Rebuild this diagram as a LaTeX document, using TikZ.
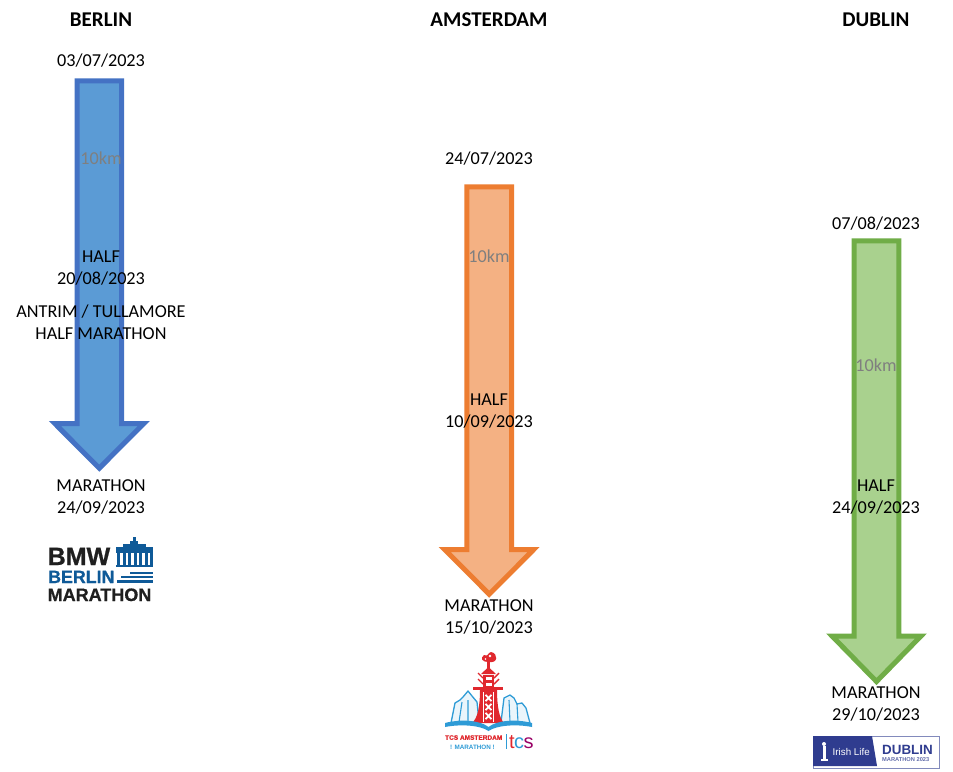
\documentclass[tikz,border=0pt]{standalone}
\usepackage{fontspec}
\setmainfont{Carlito}
\newfontfamily\logosans{Liberation Sans}
\newfontfamily\logoheavy[BoldFeatures={FakeBold=0.8}]{Liberation Sans}
\definecolor{blueline}{HTML}{4472C4}
\definecolor{bluefill}{HTML}{5B9BD5}
\definecolor{orangeline}{HTML}{ED7D31}
\definecolor{orangefill}{HTML}{F4B183}
\definecolor{greenline}{HTML}{70AD47}
\definecolor{greenfill}{HTML}{A9D18E}
\definecolor{labelgrey}{HTML}{7F7F7F}
\definecolor{berlinblue}{HTML}{0F5A98}
\definecolor{amsred}{HTML}{E0282E}
\definecolor{amsblue}{HTML}{2E9BD6}
\definecolor{dublinblue}{HTML}{2F3C8F}
\tikzset{
  x=1pt,y=-1pt,
  txt/.style={font=\fontsize{18.2}{22}\selectfont,align=center,text=black,inner sep=0pt},
  head/.style={font=\fontsize{21}{22}\selectfont\bfseries,text=black,inner sep=0pt},
  dist/.style={font=\fontsize{18.2}{22}\selectfont,text=labelgrey,inner sep=0pt},
  route/.style={line width=5pt,miter limit=10,line join=miter},
  lg/.style={inner sep=0pt,anchor=base west},
}
% Block arrow: outline, fill, centre x, top, shoulder, tip
\newcommand{\blockarrow}[6]{%
  \draw[route,draw=#1,fill=#2] (#3-22.3,#4) -- (#3+22.3,#4) -- (#3+22.3,#5) -- (#3+44.5,#5)
    -- (#3,#6) -- (#3-44.5,#5) -- (#3-22.3,#5) -- cycle;}
\begin{document}
\begin{tikzpicture}
\useasboundingbox (0,0) rectangle (953,771);
\fill[white] (0,0) rectangle (953,771);

% Training blocks
\blockarrow{blueline}{bluefill}{99.3}{80.8}{423.5}{468.2}
\blockarrow{orangeline}{orangefill}{489.2}{186.8}{549.5}{594.2}
\blockarrow{greenline}{greenfill}{876.5}{240.8}{636}{681.5}

% Berlin column
\node[head] (bh) at (101,19.5) {BERLIN};
\node[txt] (b1) at (101,61) {03/07/2023};
\node[dist] (b2) at (101,158.5) {10km};
\node[txt] (b3) at (101,268) {HALF\\20/08/2023};
\node[txt] (b4) at (101,322.5) {ANTRIM / TULLAMORE\\HALF MARATHON};
\node[txt] (b5) at (101,497) {MARATHON\\24/09/2023};

% Amsterdam column
\node[head] (ah) at (489,19.5) {AMSTERDAM};
\node[txt] (a1) at (489,159) {24/07/2023};
\node[dist] (a2) at (489,256.5) {10km};
\node[txt] (a3) at (489,411) {HALF\\10/09/2023};
\node[txt] (a4) at (489,617) {MARATHON\\15/10/2023};

% Dublin column
\node[head] (dh) at (876,19.5) {DUBLIN};
\node[txt] (d1) at (876,224) {07/08/2023};
\node[dist] (d2) at (876,365.5) {10km};
\node[txt] (d3) at (876,497) {HALF\\24/09/2023};
\node[txt] (d4) at (876,704) {MARATHON\\29/10/2023};

% Berlin logo
\node[lg,font=\logoheavy\bfseries\fontsize{25}{25}\selectfont,text=black!88] (l1) at (47.5,565) {BMW};
\node[lg,font=\logoheavy\bfseries\fontsize{17.8}{18}\selectfont,text=berlinblue] (l2) at (48,583) {BERLIN};
\node[lg,font=\logoheavy\bfseries\fontsize{18}{18}\selectfont,text=black!88] (l3) at (47.5,601) {MARATHON};
\begin{scope}[berlinblue]
  \fill (116,547) rectangle (153,553);
  \fill (123,544) rectangle (146,547);
  \fill (130,541) rectangle (138,544);
  \fill (133,537) rectangle (135.5,541);
  \foreach \gx in {117,122.5,128,133.5,139,144.5,150}
    \fill (\gx,553) rectangle +(3.2,13);
  \fill (116,565) rectangle (153,567);
  \fill (130,571.5) rectangle (152.5,574);
  \fill (121,575.5) rectangle (152.5,578);
  \fill (117,580) rectangle (152.5,582.5);
\end{scope}

% Amsterdam logo
\begin{scope}[line join=round]
  % skyline
  \draw[amsblue,line width=1.3pt,fill=amsblue!10] (451,723) -- (455,703) -- (460,700) -- (463,697) -- (468,691) -- (472,696) -- (477,702) -- (479,722);
  \draw[amsblue,line width=1.1pt] (459,722) -- (462,702) (468,722) -- (468,700);
  \draw[amsblue,line width=1.3pt,fill=amsblue!10] (501,722) -- (504,698) -- (510,695) -- (514,698) -- (517,704) -- (522,703) -- (526,708) -- (530,723);
  \draw[amsblue,line width=1.1pt] (517,704) -- (518,722) (509,700) -- (510,722);
  % flared foot of the tower
  \fill[amsred] (472,723) .. controls (478,718) and (480,705) .. (480,690) -- (497,690) .. controls (497,705) and (499,718) .. (504,723) -- cycle;
  \draw[white,line width=.9pt] (483.5,722) -- (483.5,692) (493.5,722) -- (493.5,692);
  % upper storeys
  \fill[amsred] (473,686.5) rectangle (503,689.5);
  \fill[amsred] (483,675) rectangle (494,687);
  \fill[white] (485.5,677) rectangle (491.5,680);
  \fill[white] (485.5,682.5) rectangle (491.5,685.5);
  \draw[amsred,line width=1.4pt] (478,673) -- (483,678) (478,679) -- (483,684)
    (499,673) -- (494,678) (499,679) -- (494,684);
  \fill[amsred] (488.5,667) -- (496,674) -- (481,674) -- cycle;
  \fill[amsred] (487.3,662) rectangle (489.7,668);
  % flame
  \fill[amsred] (488,662) .. controls (499,664) and (498,653) .. (491,652) .. controls (487,653) and (489,657) .. (484,655) .. controls (480,658) and (482,662) .. (488,662) -- cycle;
  \fill[white] (490,656) circle (1.4);
  \fill[white] (485.5,659) circle (.9);
  % three crosses
  \foreach \cy in {698,707,716}{
    \draw[white,line width=1.7pt] (485.5,\cy-3.2) -- (491.5,\cy+3.2) (491.5,\cy-3.2) -- (485.5,\cy+3.2);
  }
  % open book
  \fill[amsblue] (445,723) .. controls (460,719) and (480,720) .. (488.5,727) .. controls (497,720) and (517,719) .. (532,723) -- (532,727) .. controls (517,724) and (497,725) .. (488.5,731) .. controls (480,725) and (460,724) .. (445,727) -- cycle;
\end{scope}
\node[lg,font=\logoheavy\bfseries\fontsize{6.5}{8}\selectfont,text=amsred] (l4) at (445,739.8) {TCS AMSTERDAM};
\node[lg,font=\logosans\bfseries\fontsize{6.3}{8}\selectfont,text=amsblue] (l5) at (450,749) {! MARATHON !};
\draw[amsblue,line width=.8pt] (506,734) -- (506,749);
\node[lg,font=\logosans\fontsize{20}{20}\selectfont,text=amsred] (l6) at (509,748) {t};
\node[lg,font=\logosans\fontsize{20}{20}\selectfont,text=amsblue] (l7) at (514,748) {c};
\node[lg,font=\logosans\fontsize{20}{20}\selectfont,text=violet!80!red] (l8) at (523.5,748) {s};

% Dublin logo
\draw[dublinblue!60,line width=.9pt] (813.5,736) rectangle (939.5,768);
\fill[dublinblue] (813,736) -- (872,736) -- (877,766) -- (813,766) -- cycle;
\fill[white] (824,744) circle (2);
\fill[white] (823,746) rectangle (826,759);
\fill[white] (820.5,759) rectangle (828,761);
\node[lg,font=\logosans\fontsize{9.8}{10}\selectfont,text=white] (l9) at (832.5,755.5) {Irish Life};
\node[lg,font=\logosans\bfseries\fontsize{13.4}{15}\selectfont,text=dublinblue] (l10) at (882,754.5) {DUBLIN};
\node[lg,font=\logosans\bfseries\fontsize{5.7}{7}\selectfont,text=dublinblue!75] (l11) at (882,761.5) {MARATHON 2023};
\end{tikzpicture}
\end{document}
